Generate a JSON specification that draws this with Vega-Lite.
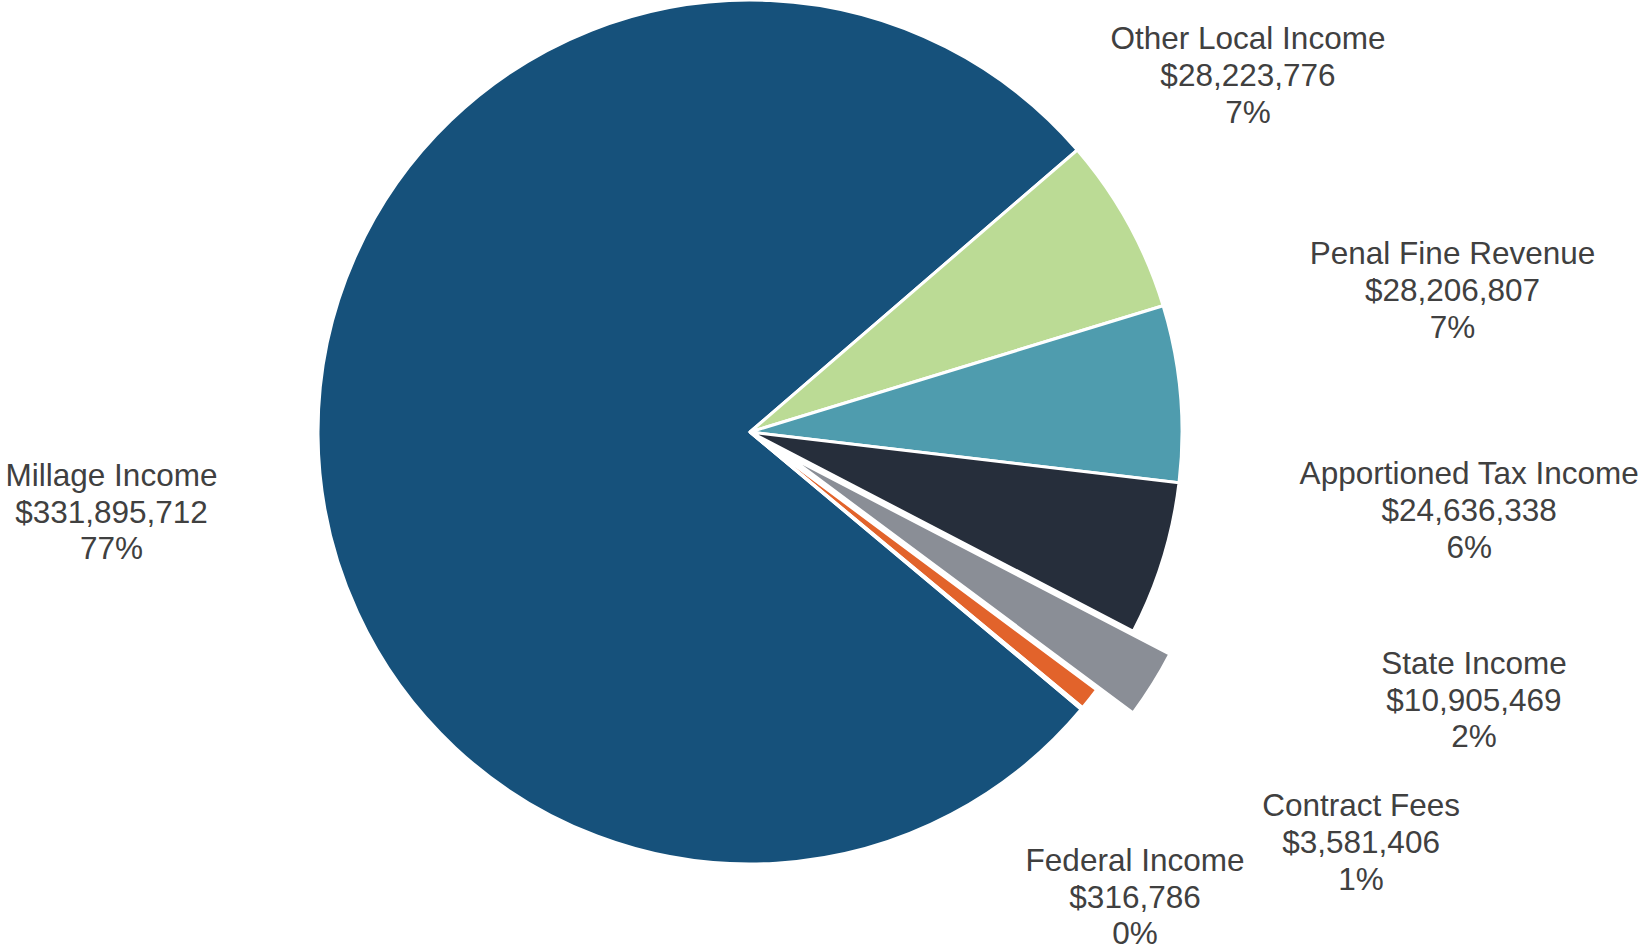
{
  "$schema": "https://vega.github.io/schema/vega-lite/v6.json",
  "width": 864,
  "height": 864,
  "autosize": {"type": "none"},
  "padding": {"left": 318, "top": 0, "right": 463, "bottom": 87},
  "background": "white",
  "config": {"view": {"stroke": null}, "text": {"font": "Liberation Sans"}},
  "data": {
    "values": [
      {"name": "Millage Income", "value": 331895712, "label": "Millage Income\n$331,895,712\n77%"},
      {"name": "Other Local Income", "value": 28223776, "label": "Other Local Income\n$28,223,776\n7%"},
      {"name": "Penal Fine Revenue", "value": 28206807, "label": "Penal Fine Revenue\n$28,206,807\n7%"},
      {"name": "Apportioned Tax Income", "value": 24636338, "label": "Apportioned Tax Income\n$24,636,338\n6%"},
      {"name": "State Income", "value": 10905469, "label": "State Income\n$10,905,469\n2%"},
      {"name": "Contract Fees", "value": 3581406, "label": "Contract Fees\n$3,581,406\n1%"},
      {"name": "Federal Income", "value": 316786, "label": "Federal Income\n$316,786\n0%"}
    ]
  },
  "encoding": {
    "theta": {"field": "value", "type": "quantitative", "stack": true, "scale": {"range": [2.26771, 8.5509]}},
    "order": {"field": "value", "sort": "descending"}
  },
  "layer": [
    {
      "mark": {"type": "arc", "stroke": "white", "strokeWidth": 3},
      "encoding": {
        "color": {
          "field": "name", "type": "nominal", "legend": null,
          "scale": {
            "domain": ["Millage Income", "Other Local Income", "Penal Fine Revenue", "Apportioned Tax Income", "State Income", "Contract Fees", "Federal Income"],
            "range": ["#16517b", "#bbdb95", "#4f9cae", "#262e3b", "#8a8e96", "#e2632b", "#f2f2f2"]
          }
        },
        "opacity": {"condition": {"test": "datum.name === 'State Income'", "value": 0}, "value": 1}
      }
    },
    {
      "mark": {"type": "arc", "stroke": "white", "strokeWidth": 3, "xOffset": 36.5, "yOffset": 23},
      "encoding": {
        "color": {"field": "name", "type": "nominal", "legend": null},
        "opacity": {"condition": {"test": "datum.name === 'State Income'", "value": 1}, "value": 0}
      }
    },
    {
      "mark": {"type": "text", "radius": 611.6, "thetaOffset": -0.11547, "dy": -36.7, "fontSize": 31.5, "lineBreak": "\n", "lineHeight": 36.7, "fill": "#404040", "align": "center", "baseline": "middle"},
      "encoding": {"text": {"condition": {"test": "datum.name === 'Other Local Income'", "field": "label", "type": "nominal"}, "value": ""}}
    },
    {
      "mark": {"type": "text", "radius": 716.2, "thetaOffset": -0.10622, "dy": -37.5, "fontSize": 31.5, "lineBreak": "\n", "lineHeight": 36.7, "fill": "#404040", "align": "center", "baseline": "middle"},
      "encoding": {"text": {"condition": {"test": "datum.name === 'Penal Fine Revenue'", "field": "label", "type": "nominal"}, "value": ""}}
    },
    {
      "mark": {"type": "text", "radius": 723.5, "thetaOffset": -0.18918, "dy": -35.8, "fontSize": 31.5, "lineBreak": "\n", "lineHeight": 36.7, "fill": "#404040", "align": "center", "baseline": "middle"},
      "encoding": {"text": {"condition": {"test": "datum.name === 'Apportioned Tax Income'", "field": "label", "type": "nominal"}, "value": ""}}
    },
    {
      "mark": {"type": "text", "radius": 770.0, "thetaOffset": -0.21197, "dy": -29.4, "fontSize": 31.5, "lineBreak": "\n", "lineHeight": 36.7, "fill": "#404040", "align": "center", "baseline": "middle"},
      "encoding": {"text": {"condition": {"test": "datum.name === 'State Income'", "field": "label", "type": "nominal"}, "value": ""}}
    },
    {
      "mark": {"type": "text", "radius": 737.1, "thetaOffset": -0.07257, "dy": -36.7, "fontSize": 31.5, "lineBreak": "\n", "lineHeight": 36.7, "fill": "#404040", "align": "center", "baseline": "middle"},
      "encoding": {"text": {"condition": {"test": "datum.name === 'Contract Fees'", "field": "label", "type": "nominal"}, "value": ""}}
    },
    {
      "mark": {"type": "text", "radius": 606.2, "thetaOffset": 0.18799, "dy": -38.2, "fontSize": 31.5, "lineBreak": "\n", "lineHeight": 36.7, "fill": "#404040", "align": "center", "baseline": "middle"},
      "encoding": {"text": {"condition": {"test": "datum.name === 'Federal Income'", "field": "label", "type": "nominal"}, "value": ""}}
    },
    {
      "mark": {"type": "text", "radius": 643.8, "thetaOffset": -0.12104, "dy": -37.5, "fontSize": 31.5, "lineBreak": "\n", "lineHeight": 36.7, "fill": "#404040", "align": "center", "baseline": "middle"},
      "encoding": {"text": {"condition": {"test": "datum.name === 'Millage Income'", "field": "label", "type": "nominal"}, "value": ""}}
    }
  ]
}
